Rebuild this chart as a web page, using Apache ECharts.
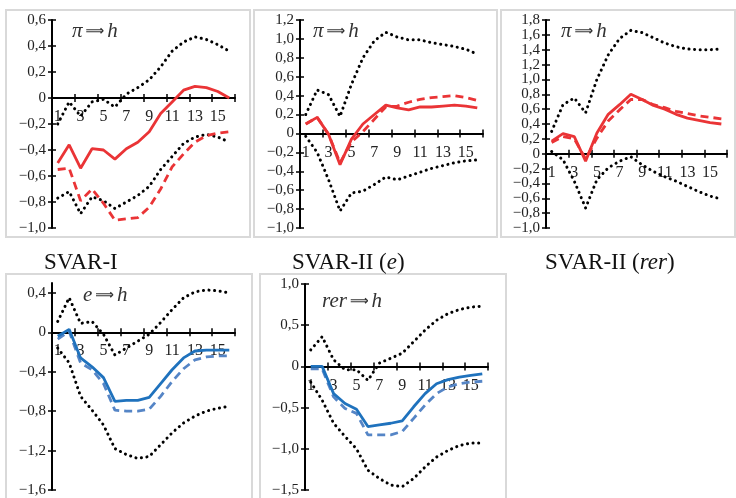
<!DOCTYPE html>
<html>
<head>
<meta charset="utf-8">
<script src="https://cdn.jsdelivr.net/npm/echarts@6/dist/echarts.min.js"></script>
<style>
  html, body { margin: 0; padding: 0; background: #fff; }
  #chart { width: 736px; height: 498px; }
</style>
</head>
<body>
<div id="chart"></div>
<script>
// horizons
const periods = ['1','2','3','4','5','6','7','8','9','10','11','12','13','14','15','16']

// SVAR-I, pi => h
const p1Solid = [-0.50,-0.36,-0.54,-0.39,-0.40,-0.47,-0.39,-0.34,-0.26,-0.12,-0.03,0.06,0.09,0.08,0.05,0.00]
const p1Dash  = [-0.55,-0.54,-0.79,-0.70,-0.81,-0.94,-0.93,-0.92,-0.84,-0.70,-0.53,-0.43,-0.34,-0.29,-0.27,-0.26]
const p1Up    = [-0.20,-0.03,-0.14,-0.03,-0.01,-0.07,0.03,0.08,0.14,0.24,0.36,0.43,0.47,0.45,0.41,0.36]
const p1Lo    = [-0.77,-0.72,-0.89,-0.76,-0.79,-0.85,-0.80,-0.75,-0.68,-0.55,-0.45,-0.35,-0.30,-0.28,-0.30,-0.34]

// SVAR-II (e), pi => h
const p2Solid = [0.10,0.17,-0.01,-0.33,-0.06,0.10,0.20,0.30,0.27,0.25,0.28,0.28,0.29,0.30,0.29,0.27]
const p2Dash  = [0.10,0.17,-0.01,-0.31,-0.09,0.02,0.15,0.28,0.29,0.33,0.36,0.38,0.39,0.40,0.38,0.35]
const p2Up    = [0.20,0.46,0.41,0.18,0.52,0.80,0.98,1.07,1.02,0.99,0.99,0.96,0.94,0.92,0.89,0.84]
const p2Lo    = [-0.03,-0.20,-0.49,-0.82,-0.63,-0.61,-0.54,-0.46,-0.49,-0.45,-0.41,-0.37,-0.34,-0.31,-0.29,-0.28]

// SVAR-II (rer), pi => h
const p3Solid = [0.17,0.27,0.23,-0.10,0.28,0.53,0.66,0.80,0.73,0.65,0.60,0.53,0.48,0.45,0.42,0.40]
const p3Dash  = [0.15,0.23,0.20,-0.07,0.21,0.44,0.59,0.73,0.73,0.66,0.62,0.57,0.54,0.51,0.49,0.47]
const p3Up    = [0.30,0.66,0.75,0.55,1.00,1.33,1.55,1.66,1.63,1.56,1.49,1.44,1.41,1.40,1.40,1.41]
const p3Lo    = [0.03,-0.08,-0.37,-0.73,-0.35,-0.19,-0.10,-0.04,-0.15,-0.24,-0.31,-0.37,-0.44,-0.51,-0.57,-0.61]

// e => h
const p4Solid = [-0.04,0.03,-0.26,-0.35,-0.46,-0.70,-0.69,-0.69,-0.66,-0.52,-0.38,-0.26,-0.19,-0.18,-0.18,-0.18]
const p4Dash  = [-0.07,0.01,-0.31,-0.38,-0.52,-0.79,-0.80,-0.80,-0.78,-0.65,-0.50,-0.37,-0.28,-0.25,-0.24,-0.24]
const p4Up    = [0.11,0.35,0.09,0.11,-0.02,-0.23,-0.16,-0.09,-0.02,0.10,0.23,0.35,0.41,0.43,0.42,0.40]
const p4Lo    = [-0.16,-0.31,-0.65,-0.79,-0.94,-1.18,-1.24,-1.28,-1.26,-1.14,-1.02,-0.92,-0.85,-0.80,-0.77,-0.75]

// rer => h
const p5Solid = [0.00,0.00,-0.33,-0.45,-0.52,-0.73,-0.71,-0.69,-0.66,-0.49,-0.33,-0.21,-0.16,-0.13,-0.11,-0.09]
const p5Dash  = [-0.03,-0.03,-0.37,-0.51,-0.57,-0.83,-0.83,-0.83,-0.79,-0.63,-0.47,-0.33,-0.25,-0.21,-0.19,-0.18]
const p5Up    = [0.20,0.36,0.08,-0.04,-0.04,-0.17,0.04,0.10,0.16,0.30,0.44,0.56,0.64,0.69,0.72,0.73]
const p5Lo    = [-0.19,-0.41,-0.69,-0.85,-1.00,-1.26,-1.36,-1.44,-1.46,-1.36,-1.22,-1.10,-1.02,-0.96,-0.93,-0.93]

// tick labels
const ticks1 = [-1.0,-0.8,-0.6,-0.4,-0.2,0,0.2,0.4,0.6]
const ticks2 = [-1.0,-0.8,-0.6,-0.4,-0.2,0,0.2,0.4,0.6,0.8,1.0,1.2]
const ticks3 = [-1.0,-0.8,-0.6,-0.4,-0.2,0,0.2,0.4,0.6,0.8,1.0,1.2,1.4,1.6,1.8]
const ticks4 = [-1.6,-1.2,-0.8,-0.4,0,0.4]
const ticks5 = [-1.5,-1.0,-0.5,0,0.5,1.0]

const RED = '#ea3436'
const BLUE = '#1f72bd'
const BLUE_D = '#5585c6'
const FONT = '"Liberation Serif", "Times New Roman", serif'

const fmt = (v) => {
  if (Math.abs(v) < 1e-9) return '0'
  return (v < 0 ? '\u2212' : '') + Math.abs(v).toFixed(1).replace('.', ',')
}

const panels = [
  { grid: { left: 52, top: 20, width: 183, height: 208 }, min: -1.0, max: 0.6, ticks: ticks1, color: RED, dashColor: RED, data: [p1Solid, p1Dash, p1Up, p1Lo] },
  { grid: { left: 300, top: 20, width: 183, height: 208 }, min: -1.0, max: 1.2, ticks: ticks2, color: RED, dashColor: RED, data: [p2Solid, p2Dash, p2Up, p2Lo] },
  { grid: { left: 546, top: 20, width: 181, height: 208 }, min: -1.0, max: 1.8, ticks: ticks3, color: RED, dashColor: RED, data: [p3Solid, p3Dash, p3Up, p3Lo] },
  { grid: { left: 52, top: 283, width: 183, height: 207 }, min: -1.6, max: 0.5, ticks: ticks4, color: BLUE, dashColor: BLUE_D, data: [p4Solid, p4Dash, p4Up, p4Lo] },
  { grid: { left: 305, top: 284, width: 183, height: 206 }, min: -1.5, max: 1.0, ticks: ticks5, color: BLUE, dashColor: BLUE_D, data: [p5Solid, p5Dash, p5Up, p5Lo] }
]

const grid = []
const xAxis = []
const yAxis = []
const series = []

panels.forEach((p, i) => {
  grid.push(p.grid)
  // x axis sits on zero: shift it up from the grid bottom
  const zeroShift = -p.grid.height * (-p.min) / (p.max - p.min)
  // two axes per direction so the ticks cross the axis line
  ;[false, true].forEach((inside) => {
    xAxis.push({
      type: 'category',
      gridIndex: i,
      position: 'bottom',
      offset: zeroShift,
      data: periods,
      boundaryGap: true,
      axisLine: { show: !inside, onZero: false, lineStyle: { color: '#000', width: 2 } },
      axisTick: { show: true, inside: inside, length: 4, lineStyle: { color: '#000', width: 1.5 } },
      axisLabel: {
        show: !inside, interval: 1, margin: 11,
        color: '#222', fontFamily: FONT, fontSize: 16
      },
      splitLine: { show: false }
    })
    yAxis.push({
      type: 'value',
      gridIndex: i,
      position: 'left',
      min: p.min,
      max: p.max,
      axisLine: { show: !inside, onZero: false, lineStyle: { color: '#000', width: 2 } },
      axisTick: { show: true, inside: inside, length: 4, customValues: p.ticks, lineStyle: { color: '#000', width: 1.5 } },
      axisLabel: {
        show: !inside, customValues: p.ticks, margin: 6, formatter: fmt,
        showMinLabel: true, showMaxLabel: true, hideOverlap: false,
        color: '#222', fontFamily: FONT, fontSize: 15
      },
      splitLine: { show: false }
    })
  })
  const xi = i * 2
  const yi = i * 2
  const base = { type: 'line', xAxisIndex: xi, yAxisIndex: yi, symbol: 'none', silent: true }
  series.push({ ...base, data: p.data[2], lineStyle: { color: '#000', width: 3, type: [0.1, 5.5], cap: 'round' } })
  series.push({ ...base, data: p.data[3], lineStyle: { color: '#000', width: 3, type: [0.1, 5.5], cap: 'round' } })
  series.push({ ...base, data: p.data[1], lineStyle: { color: p.dashColor, width: 2.8, type: [8, 5] } })
  series.push({ ...base, data: p.data[0], lineStyle: { color: p.color, width: 2.8 } })
})

const rich = {
  i: { fontFamily: FONT, fontStyle: 'italic', fontWeight: 'normal', fontSize: 21, color: '#333' },
  a: { fontFamily: '"DejaVu Sans", sans-serif', fontWeight: 'bold', fontSize: 13, color: '#333', padding: [0, 3, 0, 3] },
  n: { fontFamily: FONT, fontWeight: 'normal', fontSize: 23, color: '#111' },
  ni: { fontFamily: FONT, fontWeight: 'normal', fontSize: 23, fontStyle: 'italic', color: '#111' }
}

const mkTitle = (text, left, top) => ({
  text: text, left: left, top: top, padding: 0,
  textStyle: { rich: rich, fontSize: 20, fontWeight: 'normal' }
})

const title = [
  mkTitle('{i|\u03c0}{a|\u27f9}{i|h}', 72, 21),
  mkTitle('{i|\u03c0}{a|\u27f9}{i|h}', 313, 21),
  mkTitle('{i|\u03c0}{a|\u27f9}{i|h}', 561, 21),
  mkTitle('{i|e}{a|\u27f9}{i|h}', 83, 285),
  mkTitle('{i|rer}{a|\u27f9}{i|h}', 322, 291),
  mkTitle('{n|SVAR-I}', 44, 251),
  mkTitle('{n|SVAR-II (}{ni|e}{n|)}', 292, 251),
  mkTitle('{n|SVAR-II (}{ni|rer}{n|)}', 545, 251)
]

const frame = (x, y, w, h) => ({
  type: 'rect', shape: { x: x, y: y, width: w, height: h }, z: -1,
  style: { fill: 'none', stroke: '#d9d9d9', lineWidth: 2 }
})

const chart = echarts.init(document.getElementById('chart'), null, { renderer: 'canvas' })
chart.setOption({
  backgroundColor: '#fff',
  animation: false,
  title: title,
  grid: grid,
  xAxis: xAxis,
  yAxis: yAxis,
  series: series,
  graphic: [
    frame(6, 10, 244, 227),
    frame(254, 10, 243, 227),
    frame(501, 10, 234, 227),
    frame(6, 274, 246, 232),
    frame(260, 274, 246, 232)
  ]
})
</script>
</body>
</html>
